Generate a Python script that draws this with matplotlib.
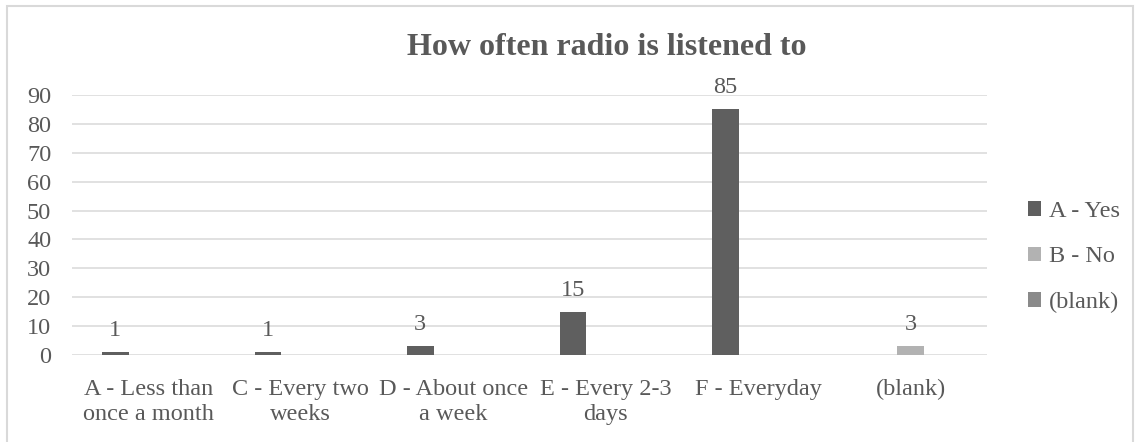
import numpy as np
import matplotlib
matplotlib.use("Agg")
import matplotlib.pyplot as plt
from matplotlib.patches import Rectangle

categories = ["A - Less than\nonce a month", "C - Every two\nweeks", "D - About once\na week",
              "E - Every 2-3\ndays", "F - Everyday", "(blank)"]
series_names = ["A - Yes", "B - No", "(blank)"]
yes_values = [1, 1, 3, 15, 85, np.nan]
no_values = [np.nan, np.nan, np.nan, np.nan, np.nan, 3]
blank_values = [np.nan, np.nan, np.nan, np.nan, np.nan, np.nan]
colors = ["#5f5f5f", "#b2b2b2", "#8a8a8a"]
yticks = [0, 10, 20, 30, 40, 50, 60, 70, 80, 90]

TEXT = "#595959"
FS = 17.5
plt.rcParams['font.family'] = ['Liberation Serif', 'DejaVu Serif']

W, H = 1139, 442
fig = plt.figure(figsize=(W / 100, H / 100), dpi=100)
fig.patches.append(Rectangle((7 / W, -0.1), (1133 - 7) / W, 1.1 - 6 / H, transform=fig.transFigure,
                             fill=False, edgecolor="#d9d9d9", linewidth=1.5))

ax = fig.add_axes([72 / W, (H - 355) / H, (987 - 72) / W, 260 / H])
x = np.arange(len(categories))
spacing = 0.216
width = 0.174
all_series = [yes_values, no_values, blank_values]
for k, (vals, name, c) in enumerate(zip(all_series, series_names, colors)):
    bars = ax.bar(x + (k - 1) * spacing, vals, width=width, color=c, label=name, zorder=3)
    labels = ["" if np.isnan(v) else f"{int(v)}" for v in vals]
    ax.bar_label(bars, labels=labels, padding=8, fontsize=FS, color=TEXT)

ax.set_xlim(-0.5, len(categories) - 0.5)
ax.set_ylim(0, 90)
ax.set_yticks(yticks)
ax.set_xticks(x)
ax.set_xticklabels(categories, fontsize=FS, color=TEXT, linespacing=1.28)
ax.tick_params(axis='y', length=0, pad=15, labelsize=FS, labelcolor=TEXT)
ax.tick_params(axis='x', length=0, pad=17)
ax.grid(axis='y', color="#d9d9d9", linewidth=1.1, zorder=0)
for s in ax.spines.values():
    s.set_visible(False)

fig.text(607 / W, (H - 55) / H, "How often radio is listened to", ha='center', va='baseline',
         fontsize=23, fontweight='bold', color=TEXT)

ax.legend(loc='center left', bbox_to_anchor=(1028 / W, (H - 257) / H), bbox_transform=fig.transFigure,
          frameon=False, fontsize=FS, labelcolor=TEXT, handlelength=0.55, handleheight=0.55,
          handletextpad=0.3, labelspacing=1.0, borderpad=0, borderaxespad=0)

fig.savefig("out.png", dpi=100)
